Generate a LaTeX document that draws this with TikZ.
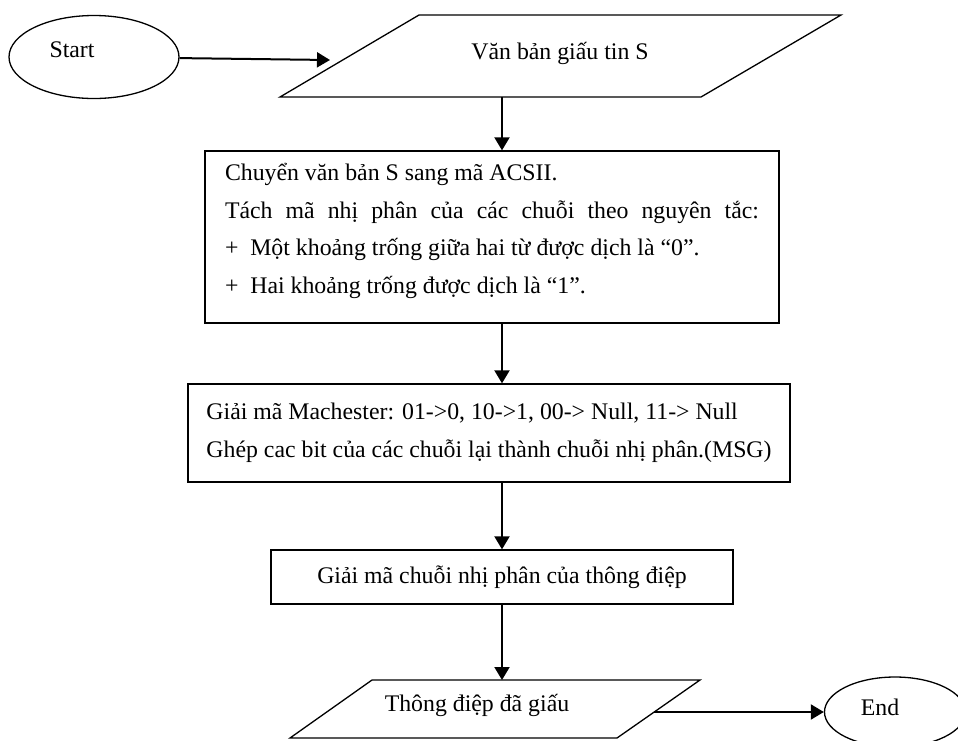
\documentclass[tikz,border=0pt]{standalone}
\usepackage{fontspec}
\setmainfont{Liberation Serif}
\usetikzlibrary{shapes.geometric,arrows.meta}
\begin{document}
\begin{tikzpicture}[x=1pt,y=-1pt,
  every node/.style={font=\fontsize{23.8pt}{37.5pt}\selectfont},
  frame/.style={draw, line width=1.3pt, rectangle, inner sep=0pt},
  io/.style={draw, line width=1.3pt, line join=miter},
  term/.style={draw, line width=1.3pt, ellipse, inner sep=0pt},
  flow/.style={line width=2pt, -{Triangle[length=13pt,width=15pt]}},
  lbl/.style={inner sep=0pt}]
\useasboundingbox (0,0) rectangle (958,740);
\clip (0,0) rectangle (958,740);

% terminals
\node[term, minimum width=170pt, minimum height=83pt] (start) at (94,57) {};
\node[lbl] (startlbl) at (72,50) {Start};
\node[term, minimum width=141pt, minimum height=70pt] (end) at (895,712) {};
\node[lbl] (endlbl) at (880,707) {End};

% input parallelogram
\draw[io] (280,97) -- (419,15) -- (841,15) -- (701,97) -- cycle;
\node[lbl] (in) at (560,53) {Văn bản giấu tin S};
\coordinate (inL) at (330,60);
\coordinate (inB) at (502,97);

% output parallelogram
\draw[io] (290,738) -- (372,680) -- (700,680) -- (617,738) -- cycle;
\node[lbl] (out) at (477,705) {Thông điệp đã giấu};
\coordinate (outT) at (502,680);
\coordinate (outR) at (654,712);

% processing steps
\node[frame, minimum width=574pt, minimum height=172pt] (conv) at (492,237) {};
\node[lbl, align=left] (convtxt) at (492,231)
  {Chuyển văn bản S sang mã ACSII.\\
   \makebox[534pt][s]{Tách mã nhị phân của các chuỗi theo nguyên tắc:}\\
   +\ \ Một khoảng trống giữa hai từ được dịch là “0”.\\
   +\ \ Hai khoảng trống được dịch là “1”.};
\node[frame, minimum width=602pt, minimum height=98pt, align=left] (dec) at (489,433)
  {Giải mã Machester: 01->0, 10->1, 00-> Null, 11-> Null\\
   Ghép cac bit của các chuỗi lại thành chuỗi nhị phân.(MSG)};
\node[frame, minimum width=462pt, minimum height=54pt] (msg) at (502,577)
  {Giải mã chuỗi nhị phân của thông điệp};

% connectors
\draw[flow] (start) -- (inL);
\draw[flow] (inB) -- (conv.north -| inB);
\draw[flow] (conv.south -| inB) -- (dec.north -| inB);
\draw[flow] (dec.south -| inB) -- (msg.north);
\draw[flow] (msg.south) -- (outT);
\draw[flow] (outR) -- (end);
\end{tikzpicture}
\end{document}
